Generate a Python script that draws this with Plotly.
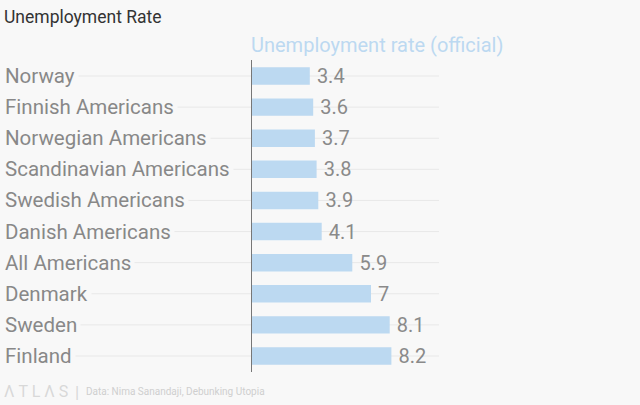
import plotly.graph_objects as go

# Data
countries = ['Norway', 'Finnish Americans', 'Norwegian Americans', 'Scandinavian Americans',
             'Swedish Americans', 'Danish Americans', 'All Americans', 'Denmark', 'Sweden', 'Finland']
rates = [3.4, 3.6, 3.7, 3.8, 3.9, 4.1, 5.9, 7, 8.1, 8.2]
series_name = 'Unemployment rate (official)'

bg = '#f8f8f8'
font = 'Roboto'

fig = go.Figure()
fig.add_trace(go.Bar(
    x=rates, y=countries, orientation='h', name=series_name,
    marker=dict(color='#bcd9f1', line=dict(width=0)),
    # thin space widens the gap between bar end and value
    text=['\u2009' + str(v) for v in rates], textposition='outside', constraintext='none',
    textfont=dict(family=font, size=20, color='#8a8a8a'),
    cliponaxis=False,
))

# row gridlines running from the labels to the right edge
for c in countries:
    fig.add_shape(type='line', xref='paper', yref='y', x0=-1.32, x1=1, y0=c, y1=c,
                  line=dict(color='#e8e8e8', width=1), layer='below')

# left-aligned category labels (background hides the gridline behind the text)
for c in countries:
    fig.add_annotation(text=c, xref='paper', yref='y', x=-1.342, y=c, xanchor='left',
                       showarrow=False, bgcolor=bg, borderpad=3,
                       font=dict(family=font, size=20.5, color='#888888'))

fig.add_annotation(text='Unemployment Rate', xref='paper', yref='paper', x=-1.337, y=1.138,
                   xanchor='left', yanchor='middle', showarrow=False,
                   font=dict(family=font, size=17.5, color='#333333'))
fig.add_annotation(text=series_name, xref='paper', yref='paper', x=-0.016, y=1.048,
                   xanchor='left', yanchor='middle', showarrow=False,
                   font=dict(family=font, size=20, color='#bcd9f1'))
fig.add_annotation(text='Λ T L Λ S', xref='paper', yref='paper', x=-1.337, y=-0.064,
                   xanchor='left', yanchor='middle', showarrow=False,
                   font=dict(family=font, size=16, color='#d8d8d8'))
fig.add_annotation(text='|', xref='paper', yref='paper', x=-0.956, y=-0.064,
                   xanchor='left', yanchor='middle', showarrow=False,
                   font=dict(family=font, size=17, color='#d8d8d8'))
fig.add_annotation(text='Data: Nima Sanandaji, Debunking Utopia', xref='paper', yref='paper',
                   x=-0.898, y=-0.064, xanchor='left', yanchor='middle', showarrow=False,
                   font=dict(family=font, size=10, color='#cfcfcf'))

fig.update_layout(
    width=640, height=405,
    margin=dict(l=252, r=201, t=60, b=33),
    paper_bgcolor=bg, plot_bgcolor=bg,
    showlegend=False, bargap=0.44,
    xaxis=dict(range=[0, 11], showgrid=False, zeroline=False, showticklabels=False,
               fixedrange=True),
    yaxis=dict(autorange='reversed', showticklabels=False, showgrid=False,
               showline=True, linecolor='#777777', linewidth=1, ticks='', zeroline=False),
)

# drop the default page margin so the figure fills the window
fig.write_html('out.html', config={'displayModeBar': False},
               post_script="document.body.style.margin='0';")
